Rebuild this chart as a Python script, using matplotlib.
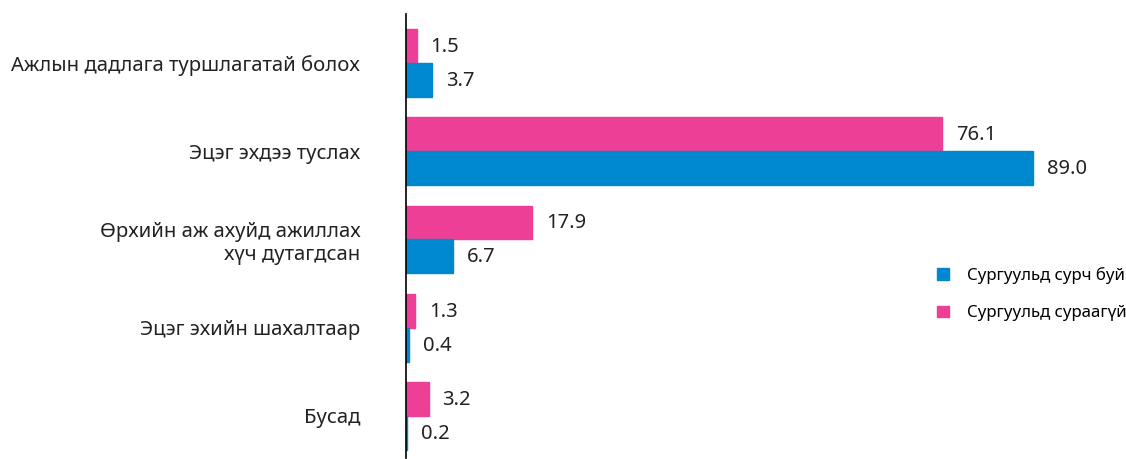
from matplotlib import pyplot as plt
from matplotlib.patches import Patch
import numpy as np

plt.rcParams['font.family'] = ['Noto Sans', 'DejaVu Sans']

categories = ['Ажлын дадлага туршлагатай болох', 'Эцэг эхдээ туслах',
              'Өрхийн аж ахуйд ажиллах\nхүч дутагдсан', 'Эцэг эхийн шахалтаар', 'Бусад']
in_school = [3.7, 89.0, 6.7, 0.4, 0.2]
out_school = [1.5, 76.1, 17.9, 1.3, 3.2]
series_labels = ['Сургуульд сурч буй', 'Сургуульд сураагүй']

BLUE = '#0088CE'
PINK = '#EE3F96'
H = 0.385

fig = plt.figure(figsize=(11.26, 4.59), dpi=100)
ax = fig.add_axes([406 / 1126, 1 / 459, 720 / 1126, 444 / 459])

y = np.arange(len(categories))
ax.barh(y - H / 2, out_school, H, color=PINK, edgecolor=PINK, linewidth=1)
ax.barh(y + H / 2, in_school, H, color=BLUE, edgecolor=BLUE, linewidth=1)

for i in range(len(categories)):
    ax.annotate(f'{out_school[i]:.1f}', (out_school[i], y[i] - H / 2), xytext=(14, -1),
                textcoords='offset pixels', va='center', ha='left', fontsize=14.5, color='#222222')
    ax.annotate(f'{in_school[i]:.1f}', (in_school[i], y[i] + H / 2), xytext=(14, -1),
                textcoords='offset pixels', va='center', ha='left', fontsize=14.5, color='#222222')

ax.set_xlim(0, 720 / 7.045)
ax.set_ylim(4.476, -0.555)
ax.set_yticks(y)
ax.set_yticklabels(categories, fontsize=14.6, color='#222222')
ax.tick_params(axis='y', length=0, pad=33)
ax.set_xticks([])
for s in ['top', 'right', 'bottom']:
    ax.spines[s].set_visible(False)
ax.spines['left'].set_linewidth(1.2)

handles = [Patch(color=BLUE), Patch(color=PINK)]
fig.legend(handles, series_labels, loc='center left', bbox_to_anchor=(922 / 1126, 1 - 294 / 459),
           frameon=False, fontsize=12.1, handlelength=0.7, handleheight=0.7, handletextpad=1.1,
           labelspacing=1.3)

plt.savefig('out.png', dpi=100)
